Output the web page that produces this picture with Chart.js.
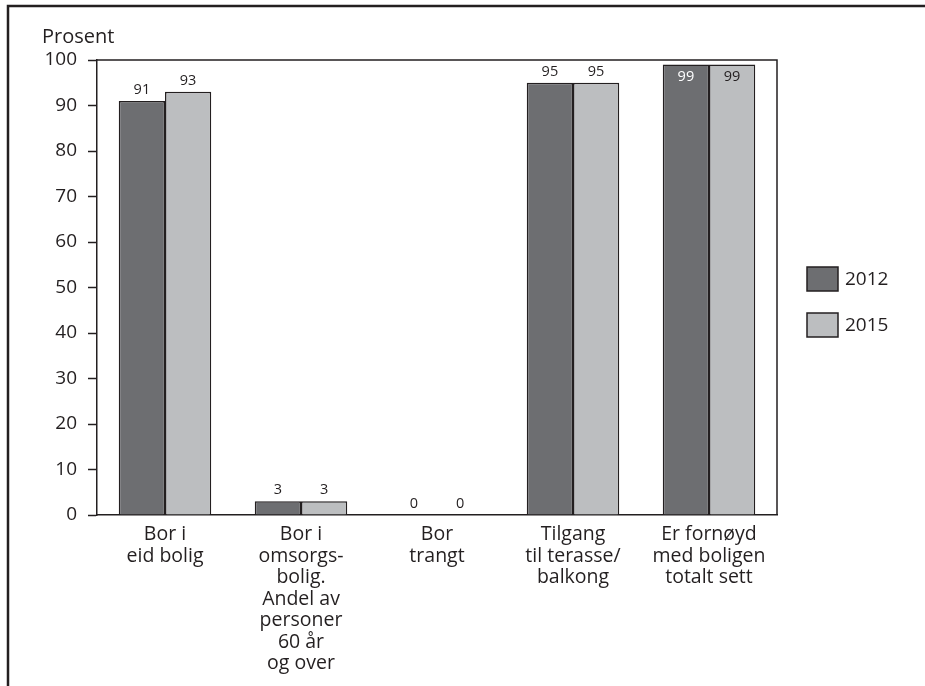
<!DOCTYPE html>
<html>
<head>
<meta charset="utf-8">
<script src="https://cdn.jsdelivr.net/npm/chart.js@4/dist/chart.umd.min.js"></script>
<style>
  html, body { margin: 0; padding: 0; background: #fff; }
  #wrap { width: 925px; height: 686px; position: relative; }
</style>
</head>
<body>
<div id="wrap"><canvas id="myChart" width="925" height="686"></canvas></div>
<script>
// categories (multi-line labels as in the original)
const categories = [
  ["Bor i", "eid bolig"],
  ["Bor i", "omsorgs-", "bolig.", "Andel av", "personer", "60 år", "og over"],
  ["Bor", "trangt"],
  ["Tilgang", "til terasse/", "balkong"],
  ["Er fornøyd", "med boligen", "totalt sett"]
]
const values2012 = [91, 3, 0, 95, 99]
const values2015 = [93, 3, 0, 95, 99]
const seriesNames = ["2012", "2015"]
const yTicks = [0, 10, 20, 30, 40, 50, 60, 70, 80, 90, 100]

const INK = "#231f20"
const FONT = "'Open Sans', 'DejaVu Sans', sans-serif"

// frame, plot box, value labels, legend and axis title
const extras = {
  id: "extras",
  afterDraw(chart) {
    const ctx = chart.ctx
    const area = chart.chartArea
    ctx.save()

    // outer frame (top and left edges)
    ctx.strokeStyle = INK
    ctx.lineWidth = 2.5
    ctx.beginPath()
    ctx.moveTo(8, 686)
    ctx.lineTo(8, 6)
    ctx.lineTo(925, 6)
    ctx.stroke()

    // plot box top and right
    ctx.lineWidth = 1.5
    ctx.beginPath()
    ctx.moveTo(area.left, area.top)
    ctx.lineTo(area.right, area.top)
    ctx.lineTo(area.right, area.bottom)
    ctx.stroke()

    // axis title
    ctx.fillStyle = INK
    ctx.font = "20px " + FONT
    ctx.textAlign = "left"
    ctx.textBaseline = "middle"
    ctx.fillText("Prosent", 42, 37)

    // value labels
    ctx.font = "14.5px " + FONT
    ctx.textAlign = "center"
    chart.data.datasets.forEach(function (ds, i) {
      const meta = chart.getDatasetMeta(i)
      meta.data.forEach(function (bar, j) {
        const v = ds.data[j]
        if (v >= 99) {
          ctx.fillStyle = i === 0 ? "#ffffff" : INK
          ctx.fillText(v, bar.x, bar.y + 12)
        } else {
          ctx.fillStyle = INK
          ctx.fillText(v, bar.x, bar.y - 11)
        }
      })
    })

    // legend
    const legendY = [267, 313]
    ctx.font = "19px " + FONT
    ctx.textAlign = "left"
    chart.data.datasets.forEach(function (ds, i) {
      ctx.fillStyle = ds.backgroundColor
      ctx.fillRect(807, legendY[i], 31, 24)
      ctx.strokeStyle = INK
      ctx.lineWidth = 1.5
      ctx.strokeRect(807, legendY[i], 31, 24)
      ctx.fillStyle = INK
      ctx.fillText(ds.label, 845, legendY[i] + 13)
    })
    ctx.restore()
  }
}

const ctx = document.getElementById("myChart").getContext("2d")
const chart = new Chart(ctx, {
  type: "bar",
  data: {
    labels: categories,
    datasets: [
      {
        label: seriesNames[0],
        data: values2012,
        backgroundColor: "#6d6e71",
        borderColor: INK,
        borderWidth: 1.5
      },
      {
        label: seriesNames[1],
        data: values2015,
        backgroundColor: "#bcbec0",
        borderColor: INK,
        borderWidth: 1.5
      }
    ]
  },
  options: {
    responsive: false,
    animation: false,
    layout: { padding: { top: 60, right: 148, bottom: 0, left: 0 } },
    datasets: {
      bar: { categoryPercentage: 0.68, barPercentage: 1.0 }
    },
    plugins: {
      legend: { display: false },
      tooltip: { enabled: false }
    },
    scales: {
      x: {
        grid: { display: false },
        border: { display: true, color: INK, width: 1.5 },
        ticks: {
          color: INK,
          font: { family: FONT, size: 19.5, lineHeight: "21.5px" },
          padding: 1,
          maxRotation: 0,
          autoSkip: false
        },
        afterFit(scale) { scale.height = 171 }
      },
      y: {
        min: 0,
        max: 100,
        afterBuildTicks(scale) {
          scale.ticks = yTicks.map(function (v) { return { value: v } })
        },
        grid: {
          drawOnChartArea: false,
          drawTicks: true,
          tickLength: 9,
          tickColor: INK,
          tickWidth: 1.5
        },
        border: { display: true, color: INK, width: 1.5 },
        ticks: {
          color: INK,
          font: { family: FONT, size: 19 },
          padding: 11
        },
        afterFit(scale) { scale.width = 97 }
      }
    }
  },
  plugins: [extras]
})
</script>
</body>
</html>
